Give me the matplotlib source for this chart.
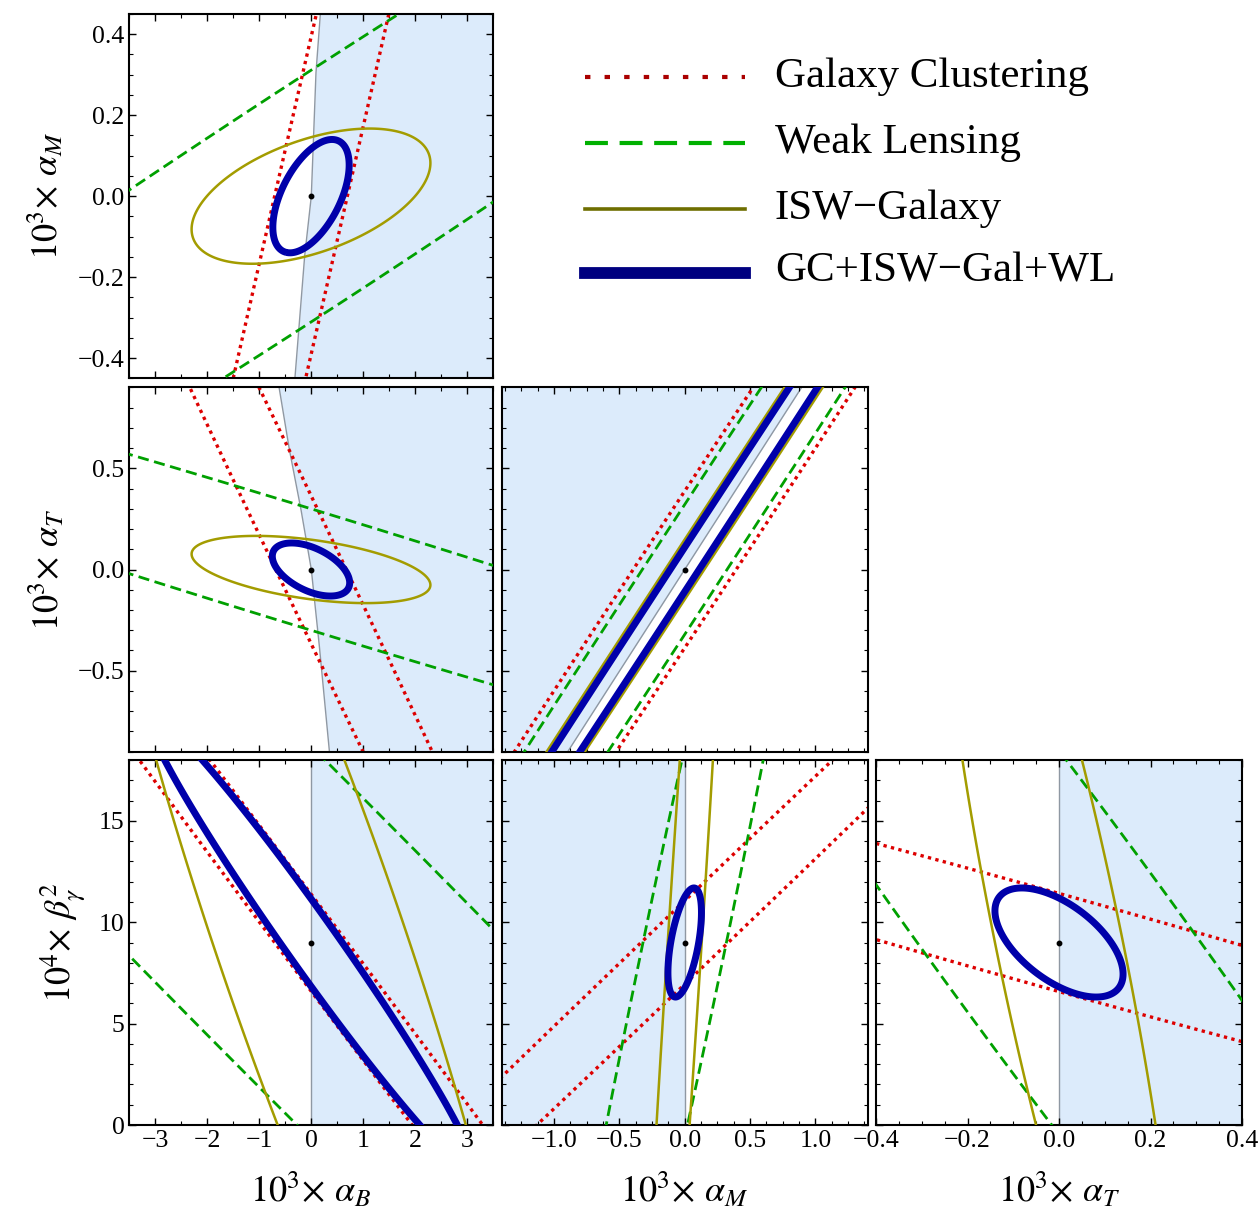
import numpy as np
import matplotlib
matplotlib.use("Agg")
import matplotlib.pyplot as plt
from matplotlib.lines import Line2D
from matplotlib.ticker import MultipleLocator, FuncFormatter

plt.rcParams['font.family'] = ['Liberation Serif', 'DejaVu Serif']
plt.rcParams['mathtext.fontset'] = 'stix'

# panel order: (aB,aM) (aB,aT) (aM,aT) (aB,b2) (aM,b2) (aT,b2)
panel_row = [0, 1, 1, 2, 2, 2]
panel_col = [0, 0, 1, 0, 1, 2]
fid_x = [0, 0, 0, 0, 0, 0]
fid_y = [0, 0, 0, 9, 9, 9]

# 2x2 Fisher blocks (fxx, fxy, fyy) for every panel, contour at chi2 = 1
gc_fxx = [2.0408, 2.1626, 6.4418, 2.0408, 9.0, 7.0056]
gc_fxy = [-3.6327, 4.0116, -6.5384, 0.5959, -1.4562, 1.07403]
gc_fyy = [6.50, 7.49, 6.6665, 0.1747, 0.23624, 0.17075]

wl_fxx = [0.074, 0.071, 9.526, 0.071111, 9.827, 10.406]
wl_fxy = [-0.858, 0.870, -9.6022, 0.027164, -0.31643, 0.33091]
wl_fyy = [10.34, 11.111, 9.709, 0.010655, 0.010814, 0.011148]

isw_fxx = [0.2488, 0.2398, 44.444, 0.27701, 59.172, 51.02]
isw_fxy = [-1.679, 1.528, -44.933, 0.036011, -0.5858, 0.4561]
isw_fyy = [47.19, 46.03, 45.488, 0.0057926, 0.0064244, 0.005678]

all_fxx = [2.654, 2.402, 81.162, 2.7778, 87.23, 76.88]
all_fxy = [-7.663, 6.831, -81.974, 0.7583, -2.2865, 2.3217]
all_fyy = [73.15, 77.70, 82.873, 0.21486, 0.19813, 0.20841]

# stability-region boundary (x along y) and side that is shaded
bnd_y = [[0.45, 0.305, 0.0, -0.148, -0.45],
         [0.9, 0.593, 0.296, 0.0, -0.379, -0.9],
         [-0.9, 0.9],
         [0, 18], [0, 18], [0, 18]]
bnd_x = [[0.18, 0.096, 0.006, -0.122, -0.31],
         [-0.615, -0.417, -0.193, 0.006, 0.161, 0.355],
         [-0.895, 0.895],
         [0, 0], [0, 0], [0, 0]]
shade_side = ['right', 'right', 'left', 'right', 'left', 'right']

# axis ranges
col_lim = [(-3.5, 3.5), (-1.4, 1.4), (-0.4, 0.4)]
row_lim = [(-0.45, 0.45), (-0.9, 0.9), (0, 18)]
col_major = [1, 0.5, 0.2]
col_minor = [0.5, 0.125, 0.05]
row_major = [0.2, 0.5, 5]
row_minor = [0.05, 0.1, 1]
col_fmt = ['%d', '%.1f', '%.1f']
row_fmt = ['%.1f', '%.1f', '%d']
col_label = [r'$10^3\!\times\,\alpha_B$', r'$10^3\!\times\,\alpha_M$', r'$10^3\!\times\,\alpha_T$']
row_label = [r'$10^3\!\times\,\alpha_M$', r'$10^3\!\times\,\alpha_T$', r'$10^4\!\times\,\beta_\gamma^2$']

probe_names = ['Galaxy Clustering', 'Weak Lensing', 'ISW\u2212Galaxy', 'GC+ISW\u2212Gal+WL']

W, H = 1258, 1213
col_px = [(129.3, 492.7), (501.7, 867.7), (876.0, 1242.0)]
row_px = [(14.0, 378.3), (387.3, 751.7), (760.0, 1125.0)]

fig = plt.figure(figsize=(W / 100, H / 100), dpi=100)


def fmt(f):
    return FuncFormatter(lambda v, p: (f % v).replace('-', '\u2212'))


styles = [
    dict(color='#dd0000', lw=2.4, ls=(0, (1, 1.3))),
    dict(color='#00a000', lw=2.0, ls=(0, (4, 2))),
    dict(color='#a39c00', lw=1.8, ls='solid'),
    dict(color='#0000aa', lw=5.0, ls='solid'),
]
fisher = [(gc_fxx, gc_fxy, gc_fyy), (wl_fxx, wl_fxy, wl_fyy),
          (isw_fxx, isw_fxy, isw_fyy), (all_fxx, all_fxy, all_fyy)]
draw_order = [2, 1, 3, 0]

for p in range(6):
    r, c = panel_row[p], panel_col[p]
    x0, x1 = col_px[c]
    y0, y1 = row_px[r]
    ax = fig.add_axes([x0 / W, 1 - y1 / H, (x1 - x0) / W, (y1 - y0) / H])
    xl, yl = col_lim[c], row_lim[r]

    by = np.array(bnd_y[p], float)
    bx = np.array(bnd_x[p], float)
    if shade_side[p] == 'right':
        ax.fill_betweenx(by, bx, xl[1] + 1, color='#dcebfb', lw=0, zorder=0)
    else:
        ax.fill_betweenx(by, xl[0] - 1, bx, color='#dcebfb', lw=0, zorder=0)
    ax.plot(bx, by, color='#8f98a3', lw=1.0, zorder=1)

    ex = 0.02 * (xl[1] - xl[0])
    ey = 0.02 * (yl[1] - yl[0])
    xs = np.linspace(xl[0] - ex, xl[1] + ex, 900)
    ys = np.linspace(yl[0] - ey, yl[1] + ey, 900)
    X, Y = np.meshgrid(xs, ys)
    dx = X - fid_x[p]
    dy = Y - fid_y[p]
    for i in draw_order:
        fxx, fxy, fyy = fisher[i]
        chi2 = fxx[p] * dx ** 2 + 2 * fxy[p] * dx * dy + fyy[p] * dy ** 2
        st = styles[i]
        cs = ax.contour(X, Y, chi2, levels=[1.0], colors=st['color'],
                        linewidths=st['lw'], zorder=2 + i)
        cs.set_linestyle(st['ls'])

    ax.plot(fid_x[p], fid_y[p], 'o', color='k', ms=3.2, zorder=10)

    ax.set_xlim(xl)
    ax.set_ylim(yl)
    ax.xaxis.set_major_locator(MultipleLocator(col_major[c]))
    ax.xaxis.set_minor_locator(MultipleLocator(col_minor[c]))
    ax.yaxis.set_major_locator(MultipleLocator(row_major[r]))
    ax.yaxis.set_minor_locator(MultipleLocator(row_minor[r]))
    ax.tick_params(which='both', direction='in', top=True, right=True,
                   labelsize=18.5)
    ax.tick_params(which='major', length=5, width=1.0)
    ax.tick_params(which='minor', length=3, width=0.8)
    for s in ax.spines.values():
        s.set_linewidth(1.5)
    if c == 0:
        ax.yaxis.set_major_formatter(fmt(row_fmt[r]))
        ax.set_ylabel(row_label[r], fontsize=26, labelpad=8)
    else:
        ax.set_yticklabels([])
    if r == 2:
        ax.xaxis.set_major_formatter(fmt(col_fmt[c]))
        ax.set_xlabel(col_label[c], fontsize=26, labelpad=14)
    else:
        ax.set_xticklabels([])

# legend
leg_styles = [
    dict(color='#aa0000', lw=3.0, ls=(0, (1.3, 3.4))),
    dict(color='#00b000', lw=3.0, ls=(0, (5.5, 2.8))),
    dict(color='#6e6e00', lw=2.6, ls='solid'),
    dict(color='#000080', lw=8.5, ls='solid'),
]
line_y = [77, 143, 209, 273]
text_y = [87, 153, 219, 281]
for i in range(4):
    st = leg_styles[i]
    fig.add_artist(Line2D([585 / W, 745 / W], [1 - line_y[i] / H] * 2,
                          color=st['color'], lw=st['lw'], ls=st['ls'],
                          transform=fig.transFigure))
    fig.text(775 / W, 1 - text_y[i] / H, probe_names[i], fontsize=31,
             va='baseline', ha='left')

fig.savefig('out.png', dpi=100)
